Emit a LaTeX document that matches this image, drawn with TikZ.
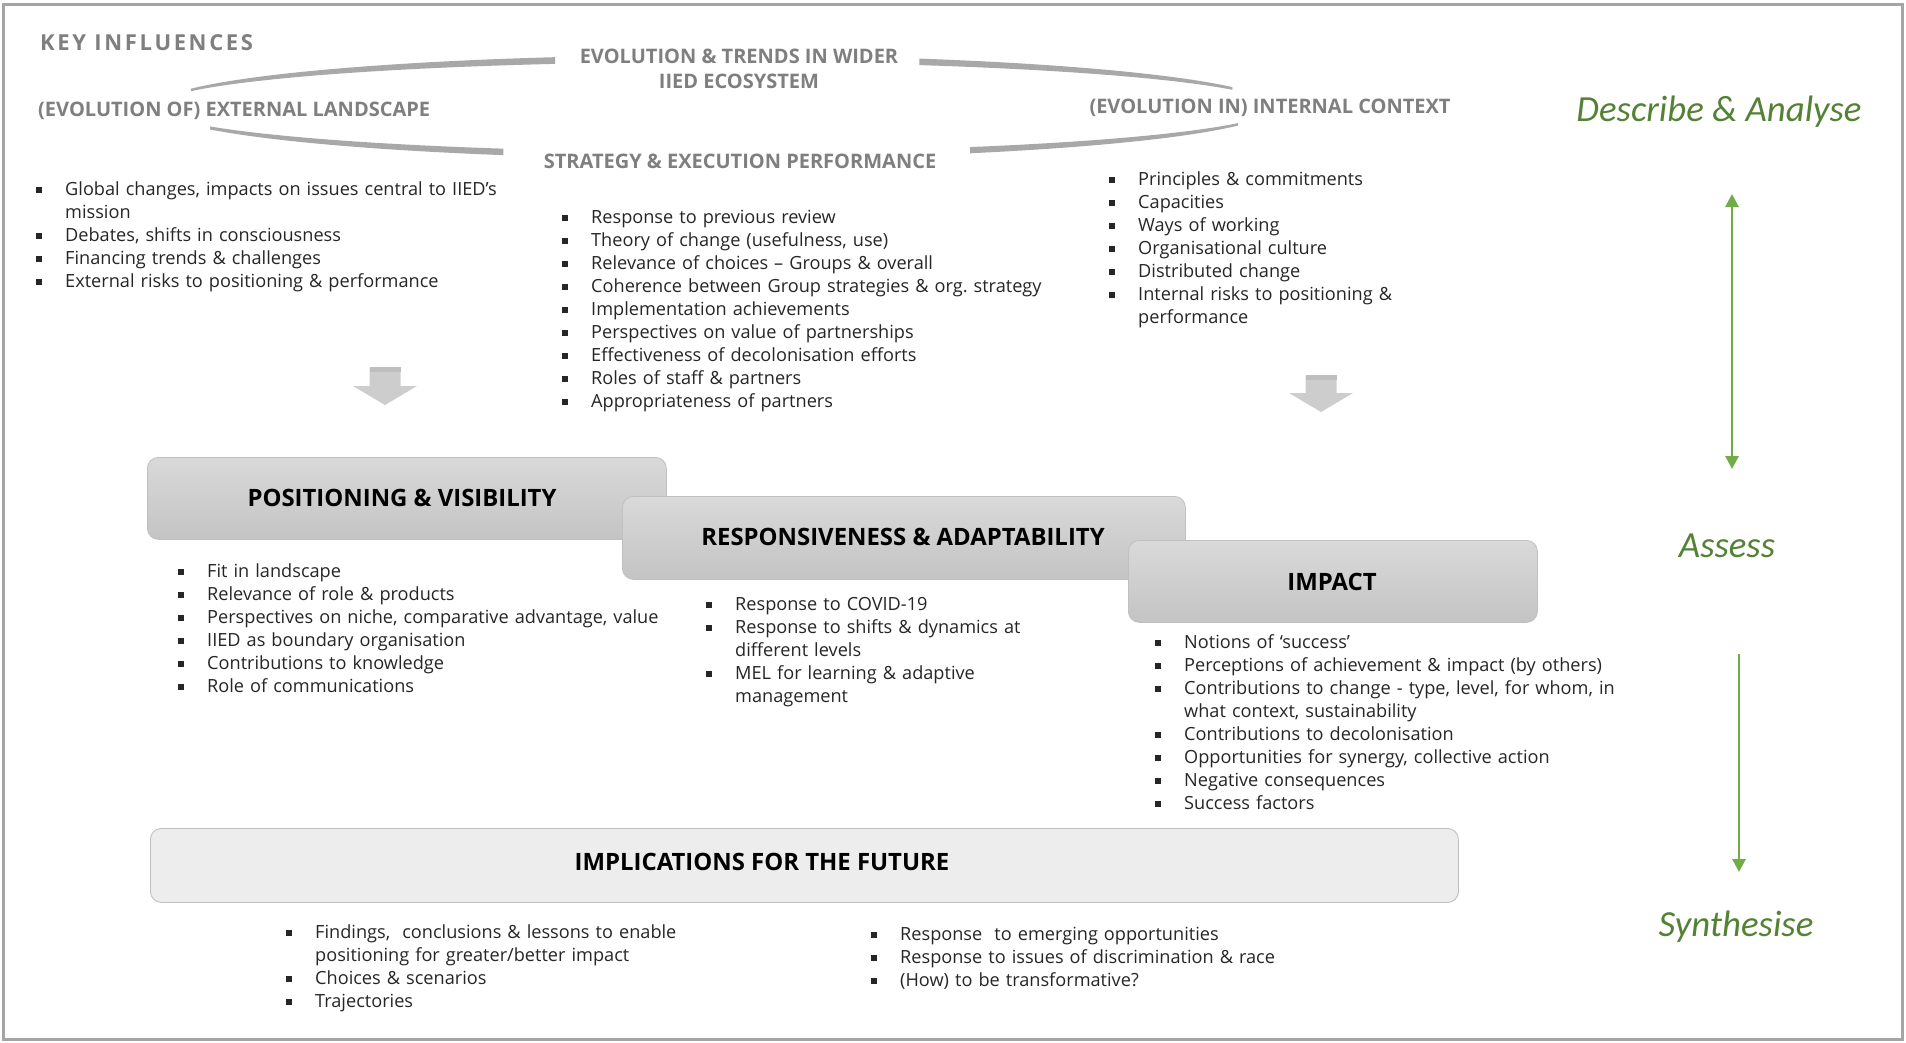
\documentclass[tikz,border=0pt]{standalone}
\usepackage{fontspec}
\setmainfont{Open Sans}
\newfontfamily\calib{Carlito}
\usetikzlibrary{arrows.meta}
\frenchspacing

\definecolor{lbl}{RGB}{127,127,127}
\definecolor{swoosh}{RGB}{168,168,168}
\definecolor{txt}{RGB}{38,38,38}
\definecolor{grn}{RGB}{84,130,53}
\definecolor{grnarr}{RGB}{112,173,71}
\definecolor{boxtop}{RGB}{217,217,217}
\definecolor{boxbot}{RGB}{196,196,196}
\definecolor{boxline}{RGB}{192,192,192}
\definecolor{implfill}{RGB}{237,237,237}
\definecolor{framecol}{RGB}{165,165,165}
\definecolor{barrow}{RGB}{205,205,205}
\definecolor{barrowtop}{RGB}{190,190,190}

\newcommand{\bsq}{\rule[2.3pt]{6pt}{6pt}}
\newcommand{\bitem}[1]{\par\hangindent=29pt\hangafter=1\noindent\makebox[29pt][l]{\bsq}\strut#1\par}

\tikzset{
  lst/.style={anchor=north west, inner sep=0pt, text width=#1, align=left,
    font=\frenchspacing\fontsize{18.15}{23}\selectfont, text=txt},
  hd/.style={font=\bfseries\fontsize{23.9}{28}\selectfont, text=black, inner sep=0pt},
  ell/.style={font=\bfseries\fontsize{20}{24}\selectfont, text=lbl, inner sep=0pt},
  stage/.style={font=\calib\itshape\fontsize{36.8}{44}\selectfont, text=grn, inner sep=0pt},
  stagebox/.style={rounded corners=11pt, top color=boxtop, bottom color=boxbot,
    draw=boxline, line width=0.8pt, anchor=north west, inner sep=0pt},
  implbox/.style={rounded corners=11pt, fill=implfill, draw=boxline,
    line width=0.9pt, anchor=north west, inner sep=0pt},
  swo/.style={fill=swoosh},
  garrow/.style={draw=grnarr, line width=2.8pt},
  blockarrow/.style={fill=barrow},
}

\begin{document}
\begin{tikzpicture}[x=1pt,y=-1pt]
\useasboundingbox (0,0) rectangle (1906,1042);
\fill[white] (0,0) rectangle (1906,1042);
\draw[framecol, line width=3pt] (3.5,4.5) rectangle (1902.5,1039.5);

% key influences ellipse swooshes
\fill[swo] plot[domain=159.4:106.6, samples=40] ({715+560*cos(\x)},{107-52*sin(\x)})
  -- plot[domain=106.6:159.4, samples=40] ({715+560*cos(\x)},{107-45*sin(\x)}) -- cycle;
\fill[swo] plot[domain=68.6:22.5, samples=40] ({715+560*cos(\x)},{107-52*sin(\x)})
  -- plot[domain=22.5:68.6, samples=40] ({715+560*cos(\x)},{107-45*sin(\x)}) -- cycle;
\fill[swo] plot[domain=205.6:247.8, samples=40] ({715+560*cos(\x)},{107-52*sin(\x)})
  -- plot[domain=247.8:205.6, samples=40] ({715+560*cos(\x)},{107-45*sin(\x)}) -- cycle;
\fill[swo] plot[domain=297.1:339.1, samples=40] ({715+560*cos(\x)},{107-52*sin(\x)})
  -- plot[domain=339.1:297.1, samples=40] ({715+560*cos(\x)},{107-45*sin(\x)}) -- cycle;

\node[ell, anchor=west, font=\bfseries\fontsize{22}{26}\selectfont\addfontfeature{LetterSpace=12}] (key) at (40,43) {KEY INFLUENCES};
\node[ell] (eco1) at (739,56) {EVOLUTION \& TRENDS IN WIDER};
\node[ell] (eco2) at (739,81) {IIED ECOSYSTEM};
\node[ell, anchor=west] (ext) at (38,111) {(EVOLUTION OF) EXTERNAL LANDSCAPE};
\node[ell] (strat) at (740,161) {STRATEGY \& EXECUTION PERFORMANCE};
\node[ell] (int) at (1270,108) {(EVOLUTION IN) INTERNAL CONTEXT};

% top lists
\node[lst=560pt] (ltl) at (36,172.4) {%
\bitem{Global changes, impacts on issues central to IIED’s\newline mission}%
\bitem{Debates, shifts in consciousness}%
\bitem{Financing trends \& challenges}%
\bitem{External risks to positioning \& performance}};

\node[lst=560pt] (mtl) at (562,200.4) {%
\bitem{Response to previous review}%
\bitem{Theory of change (usefulness, use)}%
\bitem{Relevance of choices – Groups \& overall}%
\bitem{Coherence between Group strategies \& org. strategy}%
\bitem{Implementation achievements}%
\bitem{Perspectives on value of partnerships}%
\bitem{Effectiveness of decolonisation efforts}%
\bitem{Roles of staff \& partners}%
\bitem{Appropriateness of partners}};

\node[lst=460pt] (rtl) at (1109,162) {%
\bitem{Principles \& commitments}%
\bitem{Capacities}%
\bitem{Ways of working}%
\bitem{Organisational culture}%
\bitem{Distributed change}%
\bitem{Internal risks to positioning \&\newline performance}};

% grey block arrows
\fill[blockarrow] (369.5,367) -- (400.5,367) -- (400.5,386) -- (417,386) -- (385,405) -- (353,386) -- (369.5,386) -- cycle;
\fill[barrowtop] (369.5,367) rectangle (400.5,372);
\fill[blockarrow] (1305.5,375) -- (1336.5,375) -- (1336.5,393) -- (1353,393) -- (1321,412) -- (1289,393) -- (1305.5,393) -- cycle;
\fill[barrowtop] (1305.5,375) rectangle (1336.5,380);

% stage boxes
\node[stagebox, minimum width=519pt, minimum height=82pt] (pv) at (147,457) {};
\node[hd] (pvt) at (402,498) {POSITIONING \& VISIBILITY};
\node[stagebox, minimum width=563pt, minimum height=83pt] (ra) at (622,496) {};
\node[hd] (rat) at (903,537) {RESPONSIVENESS \& ADAPTABILITY};
\node[stagebox, minimum width=409pt, minimum height=82pt] (imp) at (1128,540) {};
\node[hd] (impt) at (1332,582) {IMPACT};
\node[implbox, minimum width=1308pt, minimum height=74pt] (impl) at (150,828) {};
\node[hd] (impltxt) at (762,862) {IMPLICATIONS FOR THE FUTURE};

% stage lists
\node[lst=520pt] (pvl) at (178,554.4) {%
\bitem{Fit in landscape}%
\bitem{Relevance of role \& products}%
\bitem{Perspectives on niche, comparative advantage, value}%
\bitem{IIED as boundary organisation}%
\bitem{Contributions to knowledge}%
\bitem{Role of communications}};

\node[lst=420pt] (ral) at (706,587.4) {%
\bitem{Response to COVID-19}%
\bitem{Response to shifts \& dynamics at\newline different levels}%
\bitem{MEL for learning \& adaptive\newline management}};

\node[lst=520pt] (impl1) at (1155,625) {%
\bitem{Notions of ‘success’}%
\bitem{Perceptions of achievement \& impact (by others)}%
\bitem{Contributions to change - type, level, for whom, in\newline what context, sustainability}%
\bitem{Contributions to decolonisation}%
\bitem{Opportunities for synergy, collective action}%
\bitem{Negative consequences}%
\bitem{Success factors}};

\node[lst=460pt] (fl1) at (286,915.4) {%
\bitem{Findings,~ conclusions \& lessons to enable\newline positioning for greater/better impact}%
\bitem{Choices \& scenarios}%
\bitem{Trajectories}};

\node[lst=460pt] (fl2) at (871,917) {%
\bitem{Response~ to emerging opportunities}%
\bitem{Response to issues of discrimination \& race}%
\bitem{(How) to be transformative?}};

% right column
\node[stage] (da) at (1719,112) {Describe \& Analyse};
\node[stage] (as) at (1727,546) {Assess};
\node[stage] (sy) at (1736,927) {Synthesise};

\coordinate (a1) at (1732,194);
\coordinate (a2) at (1732,469);
\coordinate (b1) at (1739,654);
\coordinate (b2) at (1739,872);
\draw[garrow, {Triangle[length=13pt,width=13pt]}-{Triangle[length=13pt,width=13pt]}] (a1) -- (a2);
\draw[garrow, -{Triangle[length=13pt,width=13pt]}] (b1) -- (b2);
\end{tikzpicture}
\end{document}
